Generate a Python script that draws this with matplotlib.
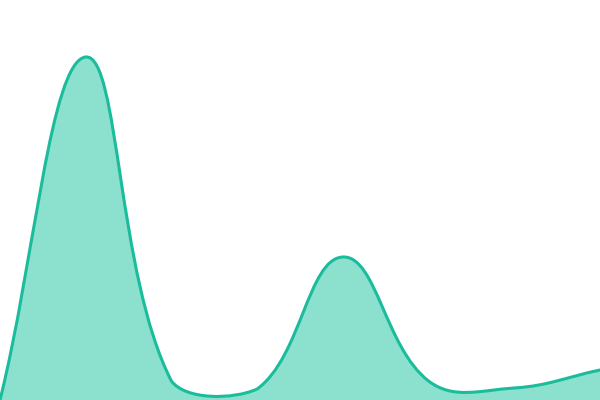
import matplotlib
matplotlib.use("Agg")
import matplotlib.pyplot as plt
import numpy as np
from matplotlib.path import Path
from matplotlib.patches import PathPatch

# data (category index -> value)
labels = ["1", "2", "3", "4", "5", "6", "7", "8"]
values = [0, 343, 19, 11, 143, 19, 12, 30]

LINE = "#1abc9c"
FILL = "#8be0ce"
tension = 0.4


# chart.js style spline control points, in display coords
def control_points(pts, t, bbox):
    n = len(pts)
    cps = []
    for i in range(n):
        cur = pts[i]
        prev = pts[i - 1] if i > 0 else cur
        nxt = pts[i + 1] if i < n - 1 else cur
        d01 = np.hypot(*(cur - prev))
        d12 = np.hypot(*(nxt - cur))
        tot = d01 + d12
        s01 = d01 / tot if tot else 0
        s12 = d12 / tot if tot else 0
        fa = t * s01
        fb = t * s12
        cp_prev = cur - fa * (nxt - prev)
        cp_next = cur + fb * (nxt - prev)
        # cap into chart area
        cp_prev = np.clip(cp_prev, [bbox.x0, bbox.y0], [bbox.x1, bbox.y1])
        cp_next = np.clip(cp_next, [bbox.x0, bbox.y0], [bbox.x1, bbox.y1])
        cps.append((cp_prev, cp_next))
    return cps


fig = plt.figure(figsize=(6, 4), dpi=100)
ax = fig.add_axes([0, 0, 1, 1])
ax.set_xlim(0, len(values) - 1)
ax.set_ylim(0, 400)
ax.axis("off")

x = np.arange(len(values))
disp = ax.transData.transform(np.column_stack([x, values]))
cps = control_points(disp, tension, ax.bbox)

verts = [disp[0]]
codes = [Path.MOVETO]
for i in range(len(disp) - 1):
    verts += [cps[i][1], cps[i + 1][0], disp[i + 1]]
    codes += [Path.CURVE4] * 3
inv = ax.transData.inverted()
verts_data = inv.transform(np.array(verts))

line_path = Path(verts_data, codes)
fill_verts = np.vstack([verts_data, [[x[-1], 0], [x[0], 0], verts_data[0]]])
fill_codes = codes + [Path.LINETO, Path.LINETO, Path.CLOSEPOLY]
fill_path = Path(fill_verts, fill_codes)

ax.add_patch(PathPatch(fill_path, facecolor=FILL, edgecolor="none"))
ax.add_patch(PathPatch(line_path, facecolor="none", edgecolor=LINE, lw=2.2,
                       joinstyle="round", capstyle="round"))

fig.savefig("out.png", dpi=100)
